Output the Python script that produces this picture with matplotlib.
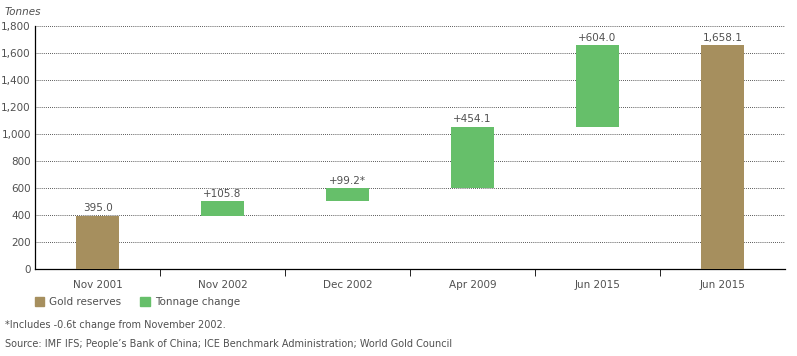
import numpy as np
import matplotlib.pyplot as plt
from matplotlib.patches import Patch

categories = ['Nov 2001', 'Nov 2002', 'Dec 2002', 'Apr 2009', 'Jun 2015', 'Jun 2015']
changes = [395.0, 105.8, 99.2, 454.1, 604.0, 1658.1]
kinds = ['total', 'change', 'change', 'change', 'change', 'total']
labels = ['395.0', '+105.8', '+99.2*', '+454.1', '+604.0', '1,658.1']

gold = '#A68F5E'
green = '#66BF6A'
txt = '#505050'

# waterfall bottoms from running total
bottoms = []
running = 0.0
for v, k in zip(changes, kinds):
    if k == 'total':
        bottoms.append(0.0)
        running = v
    else:
        bottoms.append(running)
        running += v

fig = plt.figure(figsize=(7.97, 3.56), dpi=100)
ax = fig.add_axes([0.044, 0.244, 0.941, 0.683])

x = np.arange(len(categories))
colors = [gold if k == 'total' else green for k in kinds]
ax.bar(x, changes, bottom=bottoms, width=0.34, color=colors, zorder=3)

for xi, b, v, lab in zip(x, bottoms, changes, labels):
    ax.text(xi, b + v + 18, lab, ha='center', va='bottom', fontsize=7.5, color=txt)

ax.set_xlim(-0.5, len(categories) - 0.5)
ax.set_ylim(0, 1800)
ax.set_yticks(np.arange(0, 1801, 200))
ax.set_yticklabels([f'{v:,}' for v in range(0, 1801, 200)])
ax.yaxis.grid(True, linestyle=(0, (1, 1.5)), color='#222222', linewidth=0.6, zorder=0)
ax.set_axisbelow(True)

ax.set_xticks(x)
ax.set_xticklabels(categories)
ax.set_xticks(np.arange(0.5, len(categories) - 1, 1), minor=True)
ax.tick_params(axis='x', which='major', length=0, pad=8, labelsize=7.5, labelcolor=txt)
ax.tick_params(axis='x', which='minor', length=5, direction='out', color='black')
ax.tick_params(axis='y', length=0, pad=3, labelsize=7.5, labelcolor=txt)

for s in ['top', 'right']:
    ax.spines[s].set_visible(False)
ax.spines['left'].set_linewidth(0.9)
ax.spines['bottom'].set_linewidth(0.9)

fig.text(0.006, 0.965, 'Tonnes', fontsize=7.5, style='italic', color=txt, va='center')

handles = [Patch(color=gold, label='Gold reserves'), Patch(color=green, label='Tonnage change')]
fig.legend(handles=handles, loc='center left', bbox_to_anchor=(0.032, 0.152), ncol=2,
           frameon=False, fontsize=7.5, handlelength=0.9, handleheight=0.9,
           columnspacing=1.8, handletextpad=0.5, labelcolor=txt)

fig.text(0.006, 0.087, '*Includes -0.6t change from November 2002.', fontsize=7, color=txt, va='center')
fig.text(0.006, 0.035, "Source: IMF IFS; People\u2019s Bank of China; ICE Benchmark Administration; World Gold Council",
         fontsize=7, color=txt, va='center')

fig.savefig('out.png', dpi=100)
